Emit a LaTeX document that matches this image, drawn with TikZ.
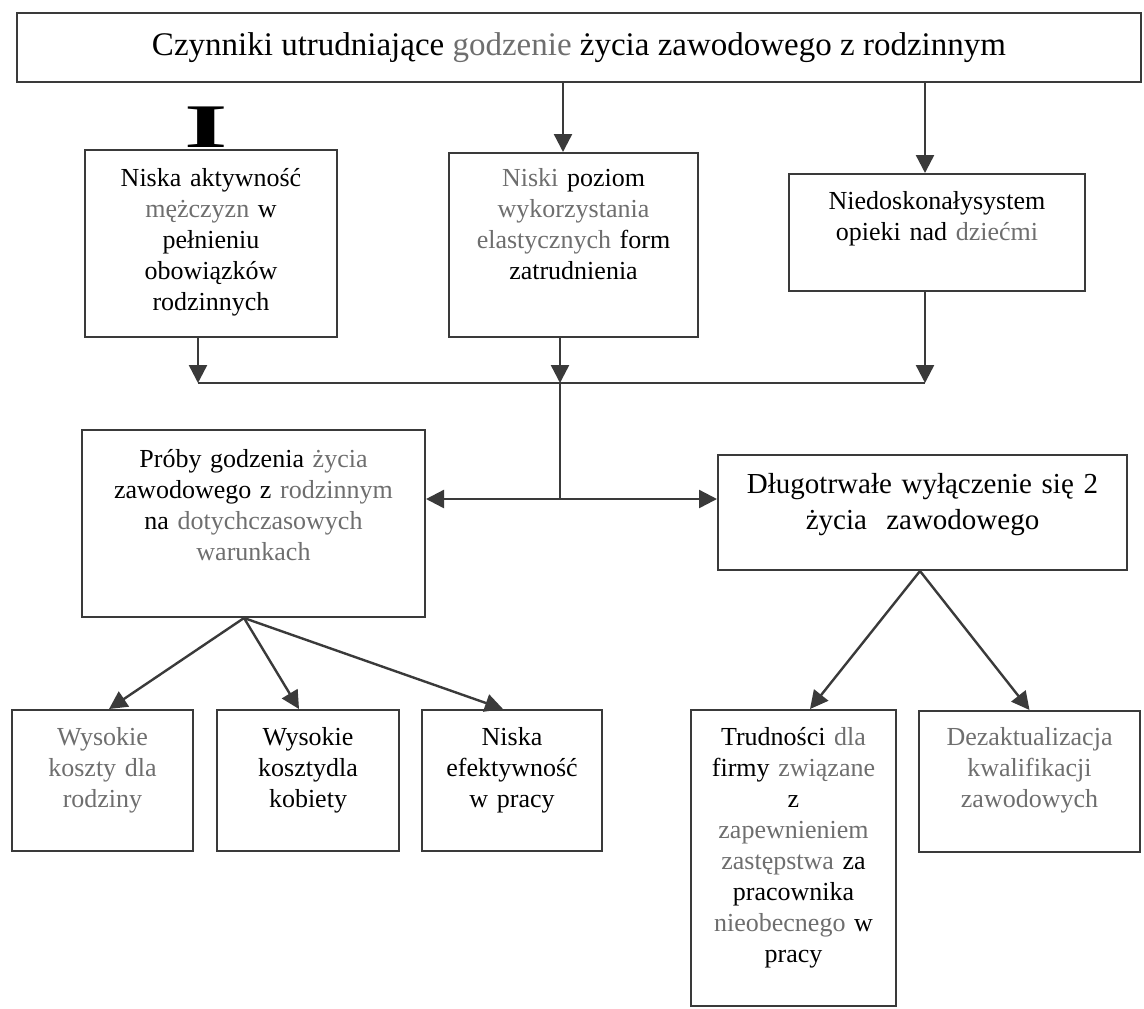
\documentclass[tikz,border=0pt]{standalone}
\usepackage{fontspec}
\setmainfont{Liberation Serif}
\usetikzlibrary{arrows.meta}
\definecolor{linia}{HTML}{3A3A3A}
\definecolor{szary}{HTML}{6E6E6E}
\newcommand{\blady}[1]{\textcolor{szary}{#1}}
\newcommand{\tekst}{\fontsize{13}{15.5}\selectfont}
\tikzset{
  pole/.style={rectangle, draw=linia, line width=1pt, inner sep=0pt, align=center, anchor=north, font=\tekst},
  naglowek/.style={rectangle, draw=linia, line width=1pt, inner sep=0pt, minimum width=562pt, minimum height=34.5pt, font=\fontsize{16.5}{20}\selectfont},
  strz/.style={draw=linia, line width=1.2pt, -{Triangle[length=9pt, width=9pt]}},
  strzdwa/.style={draw=linia, line width=1.2pt, {Triangle[length=9pt, width=9pt]}-{Triangle[length=9pt, width=9pt]}},
  polacz/.style={draw=linia, line width=1.2pt},
}

\begin{document}
\begin{tikzpicture}[x=0.5pt, y=-0.5pt]
  \useasboundingbox (0,0) rectangle (1144,1008);

  % --- NAGLOWEK ---
  \node[naglowek] (tytul) at (579,47.5) {Czynniki utrudniające \blady{godzenie} życia zawodowego z rodzinnym};
  \node[font=\bfseries\fontsize{31}{31}\selectfont, inner sep=0pt] (znak) at (206,127) {\scalebox{1.8}[1]{I}};

  % --- PRZYCZYNY ---
  \node[pole, text width=126pt, text height=18pt, text depth=75.5pt] (aktyw) at (211,149)
    {Niska aktywność\\ \blady{mężczyzn} w\\ pełnieniu\\ obowiązków\\ rodzinnych};
  \node[pole, text width=124.5pt, text height=16.5pt, text depth=75.5pt] (poziom) at (573.5,152)
    {\blady{Niski} poziom\\ \blady{wykorzystania}\\ \blady{elastycznych} form\\ zatrudnienia};
  \node[pole, text width=148pt, text height=17.5pt, text depth=41pt] (opieka) at (937,173)
    {Niedoskonałysystem\\ opieki nad \blady{dziećmi}};

  % --- SKUTKI ---
  \node[pole, text width=171.5pt, text height=18.5pt, text depth=75pt] (proby) at (253.5,429)
    {Próby godzenia \blady{życia}\\ zawodowego z \blady{rodzinnym}\\ na \blady{dotychczasowych}\\ \blady{warunkach}};
  \node[pole, text width=204.5pt, text height=19pt, text depth=38.5pt, font=\fontsize{14.5}{18}\selectfont] (wylacz) at (922.5,454)
    {Długotrwałe wyłączenie się 2\\ życia\ \ zawodowego};

  % --- KONSEKWENCJE ---
  \node[pole, text width=90.5pt, text height=17.5pt, text depth=53pt, text=szary] (rodzina) at (102.5,709)
    {Wysokie\\ koszty dla\\ rodziny};
  \node[pole, text width=91pt, text height=17.5pt, text depth=53pt] (kobieta) at (308,709)
    {Wysokie\\ kosztydla\\ kobiety};
  \node[pole, text width=90pt, text height=17.5pt, text depth=53pt] (efekt) at (512,709)
    {Niska\\ efektywność\\ w pracy};
  \node[pole, text width=102.5pt, text height=17.5pt, text depth=130.5pt] (firma) at (793.5,709)
    {Trudności \blady{dla}\\ firmy \blady{związane}\\ z\\ \blady{zapewnieniem}\\ \blady{zastępstwa} za\\ pracownika\\ \blady{nieobecnego} w\\ pracy};
  \node[pole, text width=110.5pt, text height=17pt, text depth=53.5pt, text=szary] (kwalif) at (1029.5,710)
    {Dezaktualizacja\\ kwalifikacji\\ zawodowych};

  % --- STRZALKI ---
  \coordinate (zbieg) at (560,383);
  \coordinate (rozw) at (560,499);
  \draw[strz] ([xshift=-5.25pt]poziom.north |- tytul.south) -- ([xshift=-5.25pt]poziom.north);
  \draw[strz] ([xshift=-6pt]opieka.north |- tytul.south) -- ([xshift=-6pt]opieka.north);
  \draw[strz] ([xshift=-6.5pt]aktyw.south) -- ([xshift=-6.5pt]aktyw.south |- zbieg);
  \draw[strz] ([xshift=-6.75pt]poziom.south) -- ([xshift=-6.75pt]poziom.south |- zbieg);
  \draw[strz] ([xshift=-6pt]opieka.south) -- ([xshift=-6pt]opieka.south |- zbieg);
  \draw[polacz] ([xshift=-6.5pt]aktyw.south |- zbieg) -- ([xshift=-6pt]opieka.south |- zbieg);
  \draw[polacz, line width=0.8pt] (zbieg) -- (rozw);
  \draw[strzdwa] (proby.east |- rozw) -- (wylacz.west |- rozw);

  \draw[strz] ([xshift=-4.75pt]proby.south) -- ([xshift=3.25pt]rodzina.north);
  \draw[strz] ([xshift=-4.75pt]proby.south) -- ([xshift=-4.5pt]kobieta.north);
  \draw[strz] ([xshift=-4.75pt]proby.south) -- ([xshift=-4.5pt]efekt.north);
  \draw[strz] ([xshift=-1.25pt]wylacz.south) -- ([xshift=8.25pt]firma.north);
  \draw[strz] ([xshift=-1.25pt]wylacz.south) -- (kwalif.north);

\end{tikzpicture}
\end{document}
